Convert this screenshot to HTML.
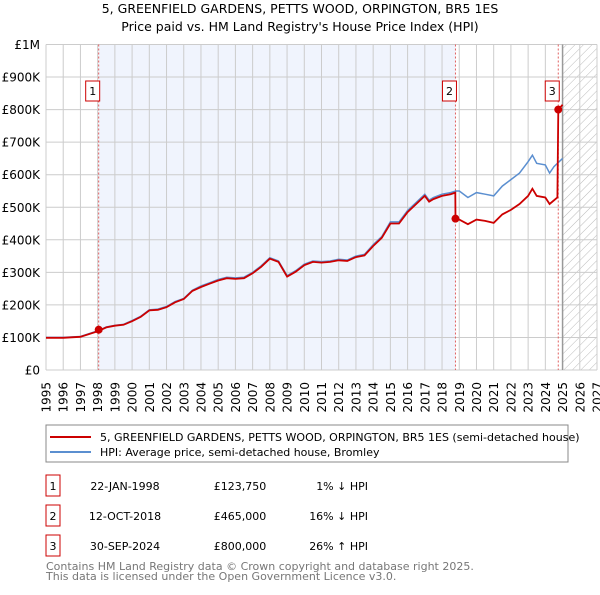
<!DOCTYPE html>
<html><head><meta charset="utf-8"><style>
body{margin:0;background:#fff;font-family:"Liberation Sans","DejaVu Sans",sans-serif;}
svg text{font-family:"DejaVu Sans","Liberation Sans",sans-serif;}
</style></head><body>
<svg width="600" height="590" viewBox="0 0 600 590" xmlns="http://www.w3.org/2000/svg">
<defs><pattern id="hatch" width="6" height="6" patternUnits="userSpaceOnUse" patternTransform="rotate(45)"><line x1="0" y1="0" x2="0" y2="6" stroke="#bbb" stroke-width="1"/></pattern></defs>
<text x="300" y="13" text-anchor="middle" font-size="12.5">5, GREENFIELD GARDENS, PETTS WOOD, ORPINGTON, BR5 1ES</text>
<text x="300" y="31" text-anchor="middle" font-size="12.5">Price paid vs. HM Land Registry's House Price Index (HPI)</text>
<g id="plot"></g>
<g id="legend">
<rect x="46" y="425" width="522" height="37" fill="#fff" stroke="#888"/>
<line x1="50" y1="437" x2="91" y2="437" stroke="#cc0000" stroke-width="2"/>
<text x="100" y="441" font-size="11">5, GREENFIELD GARDENS, PETTS WOOD, ORPINGTON, BR5 1ES (semi-detached house)</text>
<line x1="50" y1="452" x2="91" y2="452" stroke="#5b8fd0" stroke-width="2"/>
<text x="100" y="456" font-size="11">HPI: Average price, semi-detached house, Bromley</text>
</g>
<g id="table" font-size="11"></g>
<text x="46" y="570" font-size="11" fill="#777">Contains HM Land Registry data © Crown copyright and database right 2025.</text>
<text x="46" y="580" font-size="11" fill="#777">This data is licensed under the Open Government Licence v3.0.</text>
</svg>
<script>
const hpiYears=[1995,1996,1997,1998,1998.5,1999,1999.5,2000,2000.5,2001,2001.5,2002,2002.5,2003,2003.5,2004,2004.5,2005,2005.5,2006,2006.5,2007,2007.5,2008,2008.5,2009,2009.5,2010,2010.5,2011,2011.5,2012,2012.5,2013,2013.5,2014,2014.5,2015,2015.5,2016,2016.5,2017,2017.25,2017.5,2018,2018.5,2018.8,2019,2019.5,2020,2020.5,2021,2021.5,2022,2022.5,2023,2023.25,2023.5,2024,2024.25,2024.5,2025];
const hpiValues=[100,100,103,120,132,137,140,152,165,185,187,195,210,220,245,258,268,278,285,283,285,300,320,345,335,290,305,325,335,333,335,340,338,350,355,385,410,455,455,490,515,540,522,530,540,545,550,550,530,545,540,535,565,585,605,640,660,635,630,605,625,650];
const redYears=[1995,1996,1997,1998,1998.5,1999,1999.5,2000,2000.5,2001,2001.5,2002,2002.5,2003,2003.5,2004,2004.5,2005,2005.5,2006,2006.5,2007,2007.5,2008,2008.5,2009,2009.5,2010,2010.5,2011,2011.5,2012,2012.5,2013,2013.5,2014,2014.5,2015,2015.5,2016,2016.5,2017,2017.25,2017.5,2018,2018.5,2018.77,2018.78,2019,2019.5,2020,2020.5,2021,2021.5,2022,2022.5,2023,2023.25,2023.5,2024,2024.25,2024.7,2024.75,2025];
const redValues=[99,99,102,119,131,136,139,150,163,183,185,193,208,218,243,255,265,275,282,280,282,297,317,342,332,287,302,322,332,330,332,337,335,347,352,381,406,450,450,485,510,535,517,525,535,540,545,465,462,448,462,458,452,478,492,510,535,557,535,530,510,530,800,815];
const sales=[{n:"1",t:1998.06,v:123.75,date:"22-JAN-1998",price:"£123,750",hpi:"1% ↓ HPI"},{n:"2",t:2018.78,v:465,date:"12-OCT-2018",price:"£465,000",hpi:"16% ↓ HPI"},{n:"3",t:2024.75,v:800,date:"30-SEP-2024",price:"£800,000",hpi:"26% ↑ HPI"}];
const yTicks=[0,100,200,300,400,500,600,700,800,900,1000];
const yTickLabels=["£0","£100K","£200K","£300K","£400K","£500K","£600K","£700K","£800K","£900K","£1M"];
const NS="http://www.w3.org/2000/svg";
const X0=46,X1=597,Y0=370,Y1=44.5;
const x=t=>X0+(t-1995)/32*(X1-X0);
const y=v=>Y0-v/1000*(Y0-Y1);
const plot=document.getElementById('plot');
function mk(tag,attrs,parent){const e=document.createElementNS(NS,tag);for(const k in attrs)e.setAttribute(k,attrs[k]);(parent||plot).appendChild(e);return e;}
let r=mk('rect',{x:x(1998.06),y:Y1,width:x(2018.78)-x(1998.06),height:Y0-Y1,fill:'#f0f4fd'});


r=mk('rect',{x:x(2025),y:Y1,width:X1-x(2025),height:Y0-Y1,fill:'url(#hatch)'});


for(let yr=1995;yr<=2027;yr++){
 let l=mk('line',{x1:x(yr),x2:x(yr),y1:Y1,y2:Y0,stroke:'#ccc','stroke-width':1});
 
 
 let t=mk('text',{x:0,y:0,'text-anchor':'end','font-size':12,transform:'translate('+(x(yr)+4.5)+',382) rotate(-90)'});
 t.textContent=yr;
 
 
}
yTicks.forEach((v,i)=>{
 let l=mk('line',{x1:X0,x2:X1,y1:y(v),y2:y(v),stroke:'#ccc','stroke-width':1});
 
 
 let t=mk('text',{x:40,y:y(v)+4.5,'text-anchor':'end','font-size':12});
 t.textContent=yTickLabels[i];
 
 
});
let vl=mk('line',{x1:x(2025),x2:x(2025),y1:Y1,y2:Y0,stroke:'#999','stroke-width':1.5});


sales.forEach(s=>{
 let l=mk('line',{x1:x(s.t),x2:x(s.t),y1:Y1,y2:Y0,stroke:'#e06060','stroke-width':1,'stroke-dasharray':'2,2'});
 
 
});
const pts=(xs,vs)=>xs.map((t,i)=>x(t).toFixed(1)+','+y(vs[i]).toFixed(1)).join(' ');
let hp=mk('polyline',{points:pts(hpiYears,hpiValues),fill:'none',stroke:'#5b8fd0','stroke-width':1.5});


let rp=mk('polyline',{points:pts(redYears,redValues),fill:'none',stroke:'#cc0000','stroke-width':1.8});


const table=document.getElementById('table');
sales.forEach((s,i)=>{
 let c=mk('circle',{cx:x(s.t),cy:y(s.v),r:4,fill:'#cc0000'});
 
 
 let bx=x(s.t)-13;
 let b=mk('rect',{x:bx,y:81,width:14,height:20,fill:'#fff',stroke:'#cc0000'});
 
 
 let t=mk('text',{x:bx+7,y:95,'text-anchor':'middle','font-size':11});
 t.textContent=s.n;
 
 
 const ry=475+i*30;
 let tb=mk('rect',{x:46,y:ry,width:14,height:21,fill:'#fff',stroke:'#cc0000'},table);
 
 
 const cells=[[53,'middle',s.n,'table-row-number'],[125,'middle',s.date,'table-row-date'],[240,'middle',s.price,'table-row-price'],[368,'end',s.hpi,'table-row-hpi-diff']];
 cells.forEach(cl=>{
  let e=mk('text',{x:cl[0],y:ry+15,'text-anchor':cl[1]},table);
  e.textContent=cl[2];
  
  
 });
});
</script>
</body></html>
